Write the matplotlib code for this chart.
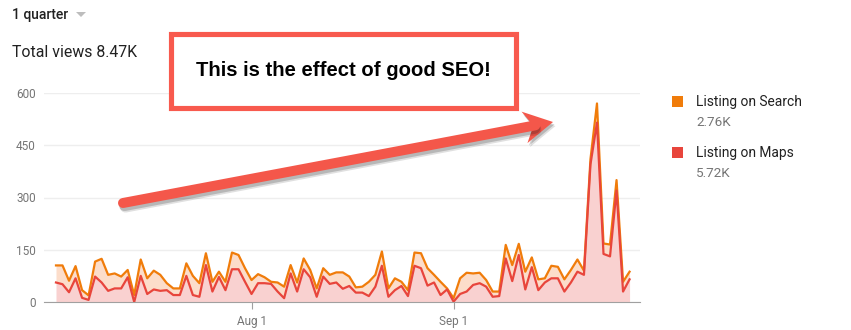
import numpy as np
import pandas as pd
import matplotlib
matplotlib.use("Agg")
import matplotlib.pyplot as plt
import matplotlib.dates as mdates
from matplotlib.patches import Rectangle, Polygon

# daily views, Jul 2 .. Sep 28
dates = pd.date_range("2018-07-02", periods=89, freq="D")
maps = [56, 51, 28, 68, 12, 6, 73, 56, 32, 39, 39, 71, 0, 75, 23, 36, 32, 34, 20, 20,
        75, 20, 15, 106, 30, 72, 34, 94, 94, 58, 23, 54, 54, 52, 30, 11, 82, 30, 94, 71,
        15, 73, 52, 56, 38, 46, 27, 27, 17, 44, 104, 15, 34, 46, 17, 104, 97, 47, 56, 20,
        36, 1, 23, 30, 49, 54, 44, 15, 17, 125, 60, 135, 36, 100, 34, 56, 68, 68, 30, 56,
        87, 78, 395, 515, 138, 131, 320, 30, 65]
search = [49, 54, 33, 35, 22, 13, 43, 68, 46, 43, 34, 21, 20, 47, 45, 54, 46, 20, 19, 19,
          36, 55, 39, 34, 28, 15, 24, 48, 41, 39, 40, 26, 17, 6, 26, 33, 24, 26, 31, 21,
          24, 24, 26, 29, 47, 27, 15, 17, 41, 34, 41, 24, 34, 12, 17, 38, 43, 50, 22, 38,
          3, 10, 45, 54, 33, 30, 19, 15, 13, 39, 46, 32, 51, 28, 31, 12, 36, 33, 35, 36,
          35, 12, 15, 55, 30, 34, 30, 28, 22]
series_names = ["Listing on Search", "Listing on Maps"]
series_totals = ["2.76K", "5.72K"]
y_ticks = [0, 150, 300, 450, 600]
x_ticks = ["2018-08-01", "2018-09-01"]

W, H = 851, 330
ORANGE = "#F07C0A"
RED = "#E8453C"
GRAY = "#757575"

plt.rcParams["font.family"] = ["Roboto", "DejaVu Sans"]

fig = plt.figure(figsize=(W / 100, H / 100), dpi=100)
ax = fig.add_axes([44 / W, 1 - 302 / H, (640 - 44) / W, 209 / H])

maps_arr = np.array(maps)
total = maps_arr + np.array(search)
ax.fill_between(dates, 0, maps_arr, color="#F9D1D0", lw=0)
ax.fill_between(dates, maps_arr, total, color="#FCDDCA", lw=0)
ax.plot(dates, total, color=ORANGE, lw=1.6)
ax.plot(dates, maps_arr, color=RED, lw=1.6)

day = pd.Timedelta(days=1)
ax.set_xlim(dates[0] - 1.84 * day, dates[0] + 89.6 * day)
ax.set_ylim(0, 600)
ax.set_yticks(y_ticks)
ax.grid(axis="y", color="#EEEEEE", lw=1)
ax.set_axisbelow(True)
for s in ["top", "right", "left"]:
    ax.spines[s].set_visible(False)
ax.spines["bottom"].set_color("#A0A0A0")
ax.set_xticks(pd.to_datetime(x_ticks))
ax.xaxis.set_major_formatter(mdates.DateFormatter("%b %-d"))
ax.tick_params(axis="x", length=5, color="#A0A0A0", labelcolor=GRAY, labelsize=8.5, pad=4)
ax.tick_params(axis="y", length=0, labelcolor=GRAY, labelsize=8.5, pad=6)

# header texts
fig.text(12 / W, 1 - 18.5 / H, "1 quarter", fontsize=10, color="#212121",
         fontweight="medium", va="baseline")
fig.text(12 / W, 1 - 57 / H, "Total views 8.47K", fontsize=11.4, color="#212121",
         va="baseline")

# legend
ov = fig.add_axes([0, 0, 1, 1], zorder=5)
ov.set_xlim(0, W)
ov.set_ylim(H, 0)
ov.axis("off")
ov.add_patch(Polygon([[76, 12], [86, 12], [81, 17]], closed=True, color="#BDBDBD", lw=0))
for k, (name, tot, col) in enumerate(zip(series_names, series_totals, [ORANGE, RED])):
    y0 = 96 + k * 51
    ov.add_patch(Rectangle((672, y0), 11, 11, color=col, lw=0))
    ov.text(696, y0 + 10, name, fontsize=9.9, color="#212121", va="baseline")
    ov.text(696, y0 + 30, tot, fontsize=9.7, color=GRAY, va="baseline")

# callout box
ov.add_patch(Rectangle((170.5, 34), 345, 73.5, facecolor="white", edgecolor="#F85A4E", lw=3.7))
ov.text(343, 71, "This is the effect of good SEO!", fontsize=14.6, fontweight="bold",
        family=["Liberation Sans", "DejaVu Sans"], color="black", ha="center", va="center")

# big arrow with soft shadow
tail = np.array([123.0, 203.0])
tip = np.array([553.0, 122.0])
u = (tip - tail) / np.linalg.norm(tip - tail)
n = np.array([-u[1], u[0]])
neck = tip - 20 * u
head = [tip, tip - 29 * u + 16 * n, neck, tip - 29 * u - 16 * n]
for off, a in [((2.5, 4), 0.12), ((1.5, 2.5), 0.18)]:
    o = np.array(off)
    ov.plot([tail[0] + o[0], neck[0] + o[0]], [tail[1] + o[1], neck[1] + o[1]],
            color="black", alpha=a, lw=8, solid_capstyle="round")
    ov.add_patch(Polygon([p + o for p in head], closed=True, color="black", alpha=a, lw=0))
ov.plot([tail[0], neck[0] + 2 * u[0]], [tail[1], neck[1] + 2 * u[1]], color="#F4574A",
        lw=7.2, solid_capstyle="round")
ov.add_patch(Polygon(head, closed=True, color="#F4574A", lw=0))

fig.savefig("out.png", dpi=100)
